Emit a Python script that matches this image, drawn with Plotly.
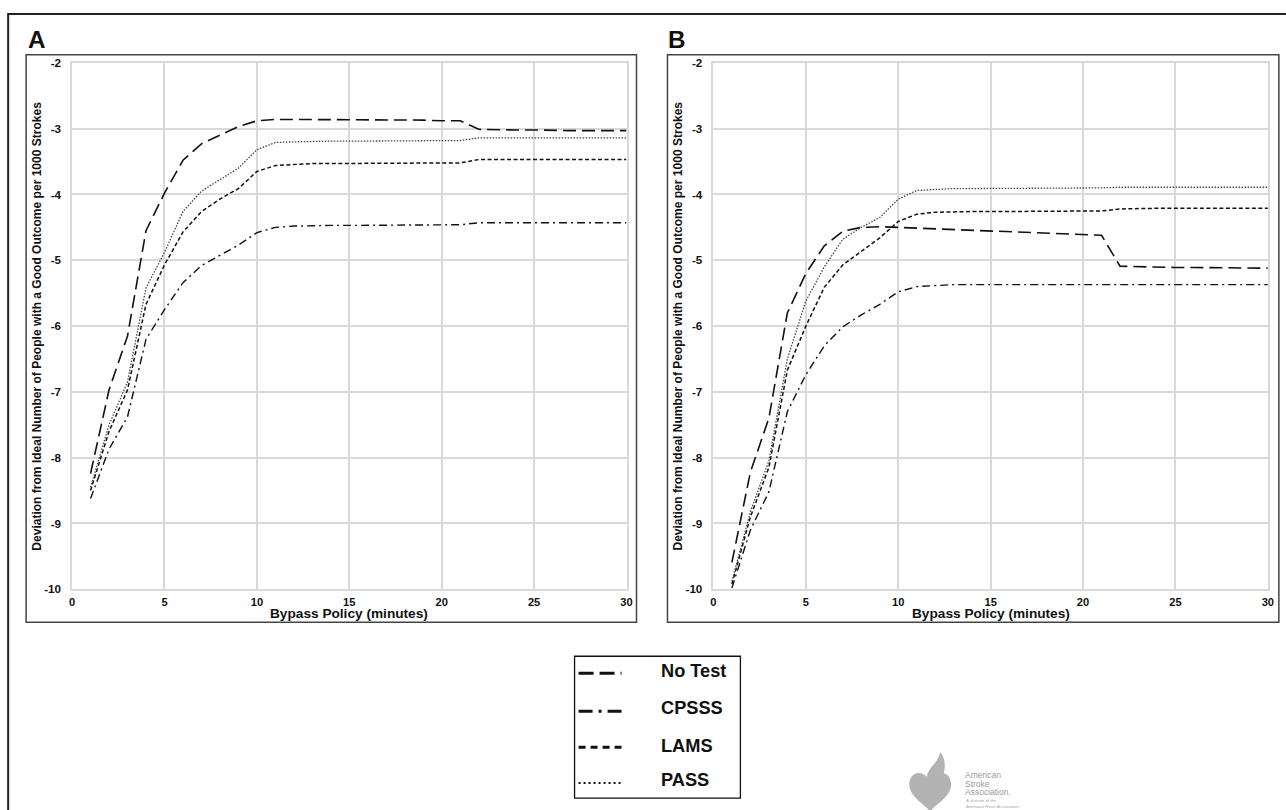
import plotly.graph_objects as go

# ---------------- data ----------------
bypass_minutes = list(range(1, 31))

x_tick_vals = [0, 5, 10, 15, 20, 25, 30]
x_tick_text = ["0", "5", "10", "15", "20", "25", "30"]
y_tick_vals = [-10, -9, -8, -7, -6, -5, -4, -3, -2]
y_tick_text = ["-10", "-9", "-8", "-7", "-6", "-5", "-4", "-3", "-2"]

series_names = ["No Test", "CPSSS", "LAMS", "PASS"]

# Panel A
a_no_test = [-8.24, -6.97, -6.15, -4.55, -3.98, -3.48, -3.23, -3.10, -2.97, -2.88,
             -2.86, -2.86, -2.86, -2.86, -2.86, -2.86, -2.86, -2.87, -2.87, -2.88,
             -2.88, -3.01, -3.02, -3.02, -3.02, -3.03, -3.03, -3.03, -3.03, -3.03]
a_cpsss = [-8.62, -7.87, -7.38, -6.20, -5.75, -5.34, -5.08, -4.93, -4.77, -4.58,
           -4.50, -4.48, -4.47, -4.47, -4.47, -4.47, -4.47, -4.47, -4.47, -4.47,
           -4.46, -4.43, -4.43, -4.43, -4.43, -4.43, -4.43, -4.43, -4.43, -4.43]
a_lams = [-8.50, -7.60, -6.97, -5.67, -5.07, -4.57, -4.26, -4.07, -3.91, -3.65,
          -3.56, -3.54, -3.53, -3.53, -3.53, -3.53, -3.53, -3.53, -3.53, -3.53,
          -3.52, -3.47, -3.47, -3.47, -3.47, -3.47, -3.47, -3.47, -3.47, -3.47]
a_pass = [-8.45, -7.50, -6.85, -5.42, -4.88, -4.26, -3.95, -3.77, -3.60, -3.32,
          -3.21, -3.20, -3.19, -3.19, -3.19, -3.19, -3.19, -3.19, -3.19, -3.19,
          -3.18, -3.14, -3.14, -3.14, -3.14, -3.14, -3.14, -3.14, -3.14, -3.14]

# Panel B
b_no_test = [-9.59, -8.22, -7.40, -5.80, -5.20, -4.78, -4.56, -4.50, -4.49, -4.50,
             -4.52, -4.53, -4.54, -4.55, -4.56, -4.57, -4.58, -4.59, -4.60, -4.61,
             -4.62, -5.09, -5.10, -5.10, -5.11, -5.11, -5.11, -5.12, -5.12, -5.12]
b_cpsss = [-9.98, -9.10, -8.52, -7.30, -6.74, -6.30, -6.01, -5.83, -5.67, -5.48,
           -5.40, -5.38, -5.37, -5.37, -5.37, -5.37, -5.37, -5.37, -5.37, -5.37,
           -5.37, -5.37, -5.37, -5.37, -5.37, -5.37, -5.37, -5.37, -5.37, -5.37]
b_lams = [-9.92, -8.90, -8.15, -6.67, -6.00, -5.41, -5.07, -4.86, -4.66, -4.41,
          -4.30, -4.27, -4.26, -4.26, -4.26, -4.26, -4.26, -4.26, -4.26, -4.26,
          -4.25, -4.22, -4.21, -4.21, -4.21, -4.21, -4.21, -4.21, -4.21, -4.21]
b_pass = [-9.88, -8.82, -8.05, -6.50, -5.62, -5.10, -4.68, -4.50, -4.35, -4.07,
          -3.94, -3.92, -3.91, -3.91, -3.91, -3.91, -3.91, -3.91, -3.91, -3.91,
          -3.90, -3.89, -3.89, -3.89, -3.89, -3.89, -3.89, -3.89, -3.89, -3.89]

# ---------------- helpers ----------------
W, H = 1286, 810
FONT = "Liberation Sans, Arial, Helvetica, sans-serif"
SX, SY = 0.994, 0.985   # compensation for the slight shrink seen in the capture
FS = 1.012              # font compensation


def px(x):
    return (643 + (x - 643) / SX) / W


def py(y):
    return 1 - (405 + (y - 405) / SY) / H


line_styles = {
    "No Test": dict(dash="13px,6px", width=1.6, color="#111"),
    "CPSSS": dict(dash="8px,4px,2px,4px", width=1.4, color="#111"),
    "LAMS": dict(dash="4px,2.5px", width=1.5, color="#111"),
    "PASS": dict(dash="1.5px,1.5px", width=1.3, color="#444"),
}

fig = go.Figure()

panel_a = [a_no_test, a_cpsss, a_lams, a_pass]
panel_b = [b_no_test, b_cpsss, b_lams, b_pass]

for name, ys in zip(series_names, panel_a):
    fig.add_trace(go.Scatter(x=bypass_minutes, y=ys, mode="lines", name=name,
                             line=line_styles[name], xaxis="x", yaxis="y",
                             showlegend=False, hoverinfo="x+y+name"))
for name, ys in zip(series_names, panel_b):
    fig.add_trace(go.Scatter(x=bypass_minutes, y=ys, mode="lines", name=name,
                             line=line_styles[name], xaxis="x2", yaxis="y2",
                             showlegend=False, hoverinfo="x+y+name"))

GRID = "#d9d9d9"
xtick_font = dict(family=FONT, size=11 * FS, color="#111", weight="bold")
ytick_font = dict(family=FONT, size=11.5 * FS, color="#111", weight="bold")

common_x = dict(range=[0, 30], tickvals=x_tick_vals, ticktext=x_tick_text,
                showgrid=True, gridcolor=GRID, gridwidth=1.5, zeroline=False,
                showline=True, linecolor=GRID, linewidth=1.5, mirror=True,
                ticks="outside", ticklen=2, tickcolor="rgba(0,0,0,0)",
                tickfont=xtick_font, fixedrange=True)
common_y = dict(range=[-10, -2], tickvals=y_tick_vals, ticktext=y_tick_text,
                showgrid=True, gridcolor=GRID, gridwidth=1.5, zeroline=False,
                showline=True, linecolor=GRID, linewidth=1.5, mirror=True,
                ticks="outside", ticklen=7, tickcolor="rgba(0,0,0,0)",
                tickfont=ytick_font, fixedrange=True)

fig.update_layout(
    width=W, height=H,
    margin=dict(l=0, r=0, t=0, b=0),
    paper_bgcolor="white", plot_bgcolor="white",
    showlegend=False,
    xaxis=dict(domain=[px(73), px(628)], anchor="y", **common_x),
    yaxis=dict(domain=[py(589), py(62)], anchor="x", **common_y),
    xaxis2=dict(domain=[px(715), px(1270)], anchor="y2", **common_x),
    yaxis2=dict(domain=[py(589), py(62)], anchor="x2", **common_y),
)

shapes = []
# outer border (top and left visible)
shapes.append(dict(type="line", xref="paper", yref="paper",
                   x0=px(9), y0=py(13), x1=1.01, y1=py(13),
                   line=dict(color="#222", width=2)))
shapes.append(dict(type="line", xref="paper", yref="paper",
                   x0=px(9), y0=py(12), x1=px(9), y1=-0.01,
                   line=dict(color="#222", width=2)))
# panel frames
for (x0, x1) in [(27, 638), (669, 1281)]:
    shapes.append(dict(type="rect", xref="paper", yref="paper",
                       x0=px(x0), y0=py(622), x1=px(x1), y1=py(54),
                       line=dict(color="#444", width=1.5)))
# legend box
shapes.append(dict(type="rect", xref="paper", yref="paper",
                   x0=px(576), y0=py(798), x1=px(742), y1=py(656),
                   line=dict(color="#111", width=1.3)))

legend_line_y = [673, 711, 747, 783]
legend_text_y = [671, 708, 746, 780]
legend_dashes = {
    "No Test": dict(dash="15px,6px", width=3, color="#111"),
    "CPSSS": dict(dash="14px,6px,3px,6px", width=3, color="#111"),
    "LAMS": dict(dash="7px,5px", width=3, color="#111"),
    "PASS": dict(dash="2px,3px", width=2, color="#111"),
}
for name, ly in zip(series_names, legend_line_y):
    shapes.append(dict(type="line", xref="paper", yref="paper",
                       x0=px(580), y0=py(ly), x1=px(623), y1=py(ly),
                       line=legend_dashes[name]))

# logo (heart + torch) drawn in grey


def path_from(points_cmds):
    out = []
    for cmd, pts in points_cmds:
        coords = " ".join(f"{px(x):.5f},{py(y):.5f}" for x, y in pts)
        out.append(f"{cmd}{coords}")
    return " ".join(out) + " Z"


heart = path_from([
    ("M", [(932, 781)]),
    ("C", [(926, 769), (911, 770), (911, 785)]),
    ("C", [(912, 798), (927, 804), (932, 812)]),
    ("C", [(937, 804), (952, 798), (953, 785)]),
    ("C", [(953, 770), (938, 769), (932, 781)]),
])
shapes.append(dict(type="path", xref="paper", yref="paper", path=heart,
                   fillcolor="#b3b3b3", line=dict(width=0)))
flame = path_from([
    ("M", [(929, 784)]),
    ("C", [(926, 772), (935, 766), (938, 761)]),
    ("C", [(940, 758), (941, 755), (942, 752)]),
    ("C", [(949, 759), (948, 776), (939, 784)]),
])
shapes.append(dict(type="path", xref="paper", yref="paper", path=flame,
                   fillcolor="#b3b3b3", line=dict(width=0)))
torch = path_from([
    ("M", [(922, 785)]),
    ("L", [(943, 785), (938, 791), (936, 812), (930, 812), (928, 791)]),
])
shapes.append(dict(type="path", xref="paper", yref="paper", path=torch,
                   fillcolor="white", line=dict(width=0)))

fig.update_layout(shapes=shapes)

annotations = []
# panel letters
for label, lx in [("A", 27), ("B", 668)]:
    annotations.append(dict(text=label, xref="paper", yref="paper",
                            x=px(lx), y=py(38.5), xanchor="left", yanchor="middle",
                            showarrow=False,
                            font=dict(family=FONT, size=24 * FS, color="#111", weight="bold")))
# axis titles
y_title = "Deviation from Ideal Number of People with a Good Outcome per 1000 Strokes"
x_title = "Bypass Policy (minutes)"
for cx_x, cx_y in [(350.5, 37.5), (992.5, 680)]:
    annotations.append(dict(text=x_title, xref="paper", yref="paper",
                            x=px(cx_x), y=py(613), xanchor="center", yanchor="middle",
                            showarrow=False,
                            font=dict(family=FONT, size=13.5 * FS, color="#111", weight="bold")))
    annotations.append(dict(text=y_title, xref="paper", yref="paper",
                            x=px(cx_y), y=py(325.5), xanchor="center", yanchor="middle",
                            textangle=-90, showarrow=False,
                            font=dict(family=FONT, size=11.9 * FS, color="#111", weight="bold")))
# legend labels
for name, ty in zip(series_names, legend_text_y):
    annotations.append(dict(text=name, xref="paper", yref="paper",
                            x=px(661), y=py(ty), xanchor="left", yanchor="middle",
                            showarrow=False,
                            font=dict(family=FONT, size=18 * FS, color="#111", weight="bold")))
# logo text
for txt, ty in [("American", 775), ("Stroke", 783.5), ("Association.", 792)]:
    annotations.append(dict(text=txt, xref="paper", yref="paper",
                            x=px(965), y=py(ty), xanchor="left", yanchor="middle",
                            showarrow=False,
                            font=dict(family=FONT, size=8.5, color="#9a9a9a")))
annotations.append(dict(text="<i>A division of the<br>American Heart Association</i>",
                        xref="paper", yref="paper",
                        x=px(965), y=py(803.5), xanchor="left", yanchor="middle",
                        align="left", showarrow=False,
                        font=dict(family=FONT, size=4.3, color="#a5a5a5")))

fig.update_layout(annotations=annotations)

fig.write_html(
    "out.html",
    config={"displayModeBar": False},
    post_script="document.body.style.margin='0';document.body.style.overflow='hidden';",
)
